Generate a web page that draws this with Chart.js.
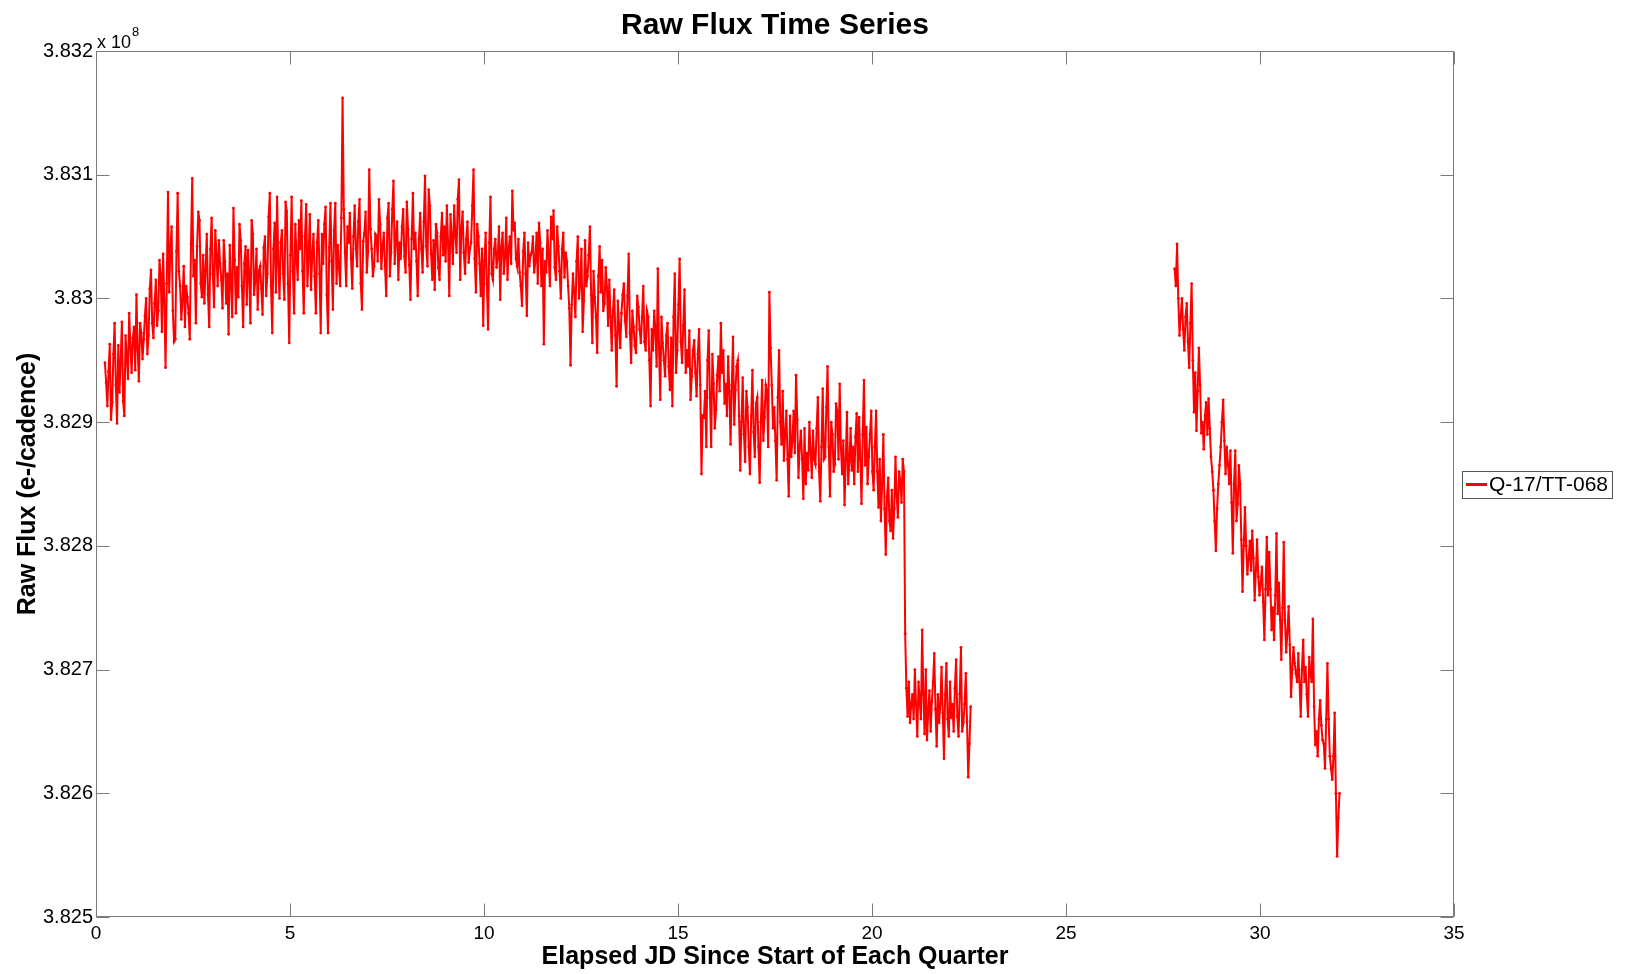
<!DOCTYPE html>
<html><head><meta charset="utf-8">
<script src="https://cdn.jsdelivr.net/npm/chart.js@4.4.1/dist/chart.umd.min.js"></script>
<style>html,body{margin:0;padding:0;background:#fff;}canvas{display:block;}</style>
</head><body>
<canvas id="c" width="1625" height="974"></canvas>
<script>
const chartTitle = 'Raw Flux Time Series';
const xTitle = 'Elapsed JD Since Start of Each Quarter';
const yTitle = 'Raw Flux (e-/cadence)';
const seriesLabel = 'Q-17/TT-068';
const yExponentBase = 'x 10';
const yExponent = '8';
const xTicks = [0, 5, 10, 15, 20, 25, 30, 35];
const yTicks = [3.825, 3.826, 3.827, 3.828, 3.829, 3.830, 3.831, 3.832];
const cadenceDays = 0.03125;
const q1Start = 0.23;
const q2Start = 27.80;
// flux values in units of 1e8 e-/cadence (even cadences)
const q1Flux = [
3.82948,3.82913,3.82963,3.82916,3.82980,3.82899,3.82924,3.82981,3.82905,3.82953,3.82988,3.82940,3.82977,3.83003,3.82933,3.82972,
3.82967,3.83000,3.82970,3.83023,3.82968,3.83015,3.82990,3.83020,3.83036,3.82944,3.83086,3.83040,3.82990,3.82967,3.83085,3.83010,
3.82999,3.82977,3.83001,3.82967,3.83097,3.83031,3.83042,3.83063,3.83001,3.82996,3.83052,3.82977,3.83065,3.82993,3.83036,3.83047,
3.83015,3.83047,3.82996,3.82971,3.83012,3.83073,3.82988,3.83001,3.83047,3.82977,3.83042,3.83039,3.82980,3.83052,3.83015,3.82991,
3.83026,3.82987,3.83050,3.83020,3.83085,3.82972,3.83061,3.83082,3.83000,3.83055,3.82999,3.83070,3.82964,3.83082,3.82988,3.83034,
3.83063,3.83079,3.82988,3.83076,3.83034,3.83007,3.83052,3.82988,3.83063,3.82972,3.83028,3.83074,3.82972,3.83077,3.82991,3.83077,
3.83043,3.83010,3.83162,3.83037,3.83058,3.83069,3.83008,3.83075,3.83026,3.83080,3.82991,3.83053,3.83021,3.83104,3.83040,3.83026,
3.83050,3.83080,3.83024,3.83053,3.83002,3.83077,3.83037,3.83095,3.83050,3.83015,3.83032,3.83072,3.83021,3.83056,3.82999,3.83085,
3.83053,3.83002,3.83069,3.83021,3.83099,3.83026,3.83075,3.83015,3.83007,3.83053,3.83015,3.83069,3.83058,3.83075,3.83002,3.83050,
3.83075,3.83037,3.83096,3.83056,3.83037,3.83048,3.83029,3.83045,3.83104,3.83005,3.83050,3.83002,3.82978,3.83053,3.82975,3.83082,
3.83015,3.83048,3.83034,3.82999,3.83053,3.83034,3.83015,3.83050,3.83087,3.83061,3.83026,3.83021,3.82994,3.83053,3.82986,3.83026,
3.83037,3.83021,3.83053,3.83061,3.83010,3.82963,3.83021,3.83034,3.83066,3.83071,3.83015,3.83042,3.83000,3.83053,3.83037,3.83010,
3.82946,3.83020,3.82985,3.83050,3.83012,3.82973,3.83047,3.83018,3.83058,3.82964,3.83001,3.82956,3.83042,3.83031,3.82996,3.83009,
3.83015,3.82958,3.83007,3.82929,3.82979,3.82988,3.83012,3.82969,3.83036,3.82948,3.82977,3.82956,3.82993,3.82964,3.83010,3.82958,
3.82985,3.82913,3.82958,3.82974,3.83024,3.82918,3.82964,3.82937,3.82980,3.82926,3.82913,3.83020,3.82958,3.83032,3.82948,3.83007,
3.82958,3.82974,3.82937,3.82966,3.82921,3.82975,3.82858,3.82904,3.82880,3.82974,3.82880,3.82931,3.82910,3.82953,3.82980,3.82958,
3.82931,3.82953,3.82882,3.82969,3.82926,3.82950,3.82861,3.82936,3.82868,3.82912,3.82858,3.82942,3.82872,3.82920,3.82851,3.82934,
3.82904,3.82925,3.83005,3.82930,3.82912,3.82853,3.82958,3.82882,3.82869,3.82909,3.82840,3.82872,3.82909,3.82938,3.82855,3.82893,
3.82838,3.82850,3.82861,3.82877,3.82893,3.82866,3.82920,3.82836,3.82927,3.82872,3.82945,3.82840,3.82890,3.82866,3.82909,3.82931,
3.82858,3.82833,3.82908,3.82868,3.82861,3.82850,3.82907,3.82904,3.82834,3.82934,3.82896,3.82872,3.82909,3.82845,3.82909,3.82831,
3.82820,3.82890,3.82793,3.82855,3.82812,3.82806,3.82872,3.82823,3.82853,3.82870,
3.82729,3.82662,3.82657,3.82680,3.82700,3.82646,3.82675,3.82732,3.82648,3.82643,3.82683,3.82674,3.82713,3.82638,
3.82657,3.82702,3.82628,3.82705,3.82646,3.82661,3.82650,3.82708,3.82646,3.82718,3.82657,3.82697,3.82613,3.82670
];
// odd cadences, between consecutive entries of q1Flux
const q1FluxOdd = [
3.82932,3.82941,3.82902,3.82955,3.82930,3.82962,3.82950,3.82917,3.82970,3.82935,3.82962,3.82968,3.82942,3.82959,3.82980,3.82951,
3.82986,3.82955,3.83008,3.82980,3.82996,3.82978,3.83031,3.82973,3.82998,3.83012,3.83005,3.83058,3.82965,3.83038,3.83022,3.82983,
3.83026,3.83010,3.82988,3.83044,3.83018,3.82980,3.83070,3.83012,3.83035,3.83023,3.83003,3.83040,3.83020,3.83055,3.83010,3.83028,
3.82992,3.83030,3.83020,3.83043,3.82985,3.83031,3.83025,3.83060,3.83010,3.83028,3.82995,3.83018,3.83063,3.83003,3.83040,3.83022,
3.83008,3.83041,3.83002,3.83066,3.83010,3.83040,3.83005,3.83028,3.83045,3.83020,3.83078,3.83012,3.83035,3.83022,3.83060,3.83015,
3.83040,3.83022,3.83050,3.83010,3.83068,3.83036,3.83018,3.83045,3.83020,3.83052,3.83060,3.83003,3.83041,3.83030,3.83055,3.83012,
3.83025,3.83065,3.83072,3.83010,3.83045,3.83032,3.83050,3.83040,3.83062,3.83012,3.83046,3.83070,3.83038,3.83056,3.83018,3.83052,
3.83030,3.83060,3.83042,3.83026,3.83065,3.83018,3.83072,3.83028,3.83062,3.83045,3.83058,3.83034,3.83078,3.83027,3.83048,3.83040,
3.83030,3.83048,3.83040,3.83062,3.83042,3.83088,3.83036,3.83047,3.83060,3.83025,3.83050,3.83035,3.83030,3.83045,3.83068,3.83028,
3.83052,3.83080,3.83015,3.83070,3.83020,3.83062,3.83040,3.83075,3.83032,3.83060,3.83028,3.83040,3.83030,3.83012,3.83045,3.83020,
3.83040,3.83025,3.83058,3.83042,3.83020,3.83065,3.83040,3.83028,3.83055,3.83032,3.83048,3.83010,3.83038,3.83020,3.83045,3.83035,
3.83050,3.83030,3.83012,3.83045,3.83040,3.83030,3.83055,3.83010,3.83048,3.83025,3.83058,3.83022,3.83040,3.83017,3.83030,3.82992,
3.82995,3.83005,3.83030,3.83000,3.83040,3.82998,3.83010,3.83035,3.83003,3.83022,3.82985,3.83018,3.83005,3.82990,3.83025,3.82978,
3.82985,3.82990,3.82970,3.82998,3.82960,3.83003,3.82982,3.83002,3.82972,3.82990,3.82962,3.83002,3.82975,3.82985,3.82965,3.82990,
3.82950,3.82975,3.82990,3.82945,3.82960,3.82985,3.82950,3.82970,3.82945,3.82968,3.82985,3.82940,3.82995,3.82965,3.82978,3.82940,
3.82945,3.82918,3.82958,3.82940,3.82955,3.82930,3.82905,3.82925,3.82950,3.82920,3.82955,3.82895,3.82938,3.82925,3.82940,3.82915,
3.82905,3.82925,3.82930,3.82898,3.82945,3.82905,3.82900,3.82890,3.82925,3.82880,3.82905,3.82892,3.82915,3.82880,3.82900,3.82885,
3.82930,3.82880,3.82960,3.82895,3.82885,3.82920,3.82900,3.82925,3.82890,3.82870,3.82905,3.82885,3.82875,3.82902,3.82880,3.82870,
3.82895,3.82875,3.82900,3.82855,3.82870,3.82895,3.82860,3.82880,3.82870,3.82912,3.82880,3.82900,3.82860,3.82915,3.82870,3.82880,
3.82885,3.82870,3.82850,3.82895,3.82880,3.82888,3.82860,3.82870,3.82890,3.82865,3.82850,3.82890,3.82860,3.82880,3.82860,3.82870,
3.82850,3.82830,3.82840,3.82820,3.82845,3.82830,3.82840,3.82860,3.82835,3.82860,
3.82685,3.82690,3.82672,3.82660,3.82672,3.82690,3.82660,3.82680,3.82700,3.82665,3.82650,3.82690,3.82668,3.82680,
3.82672,3.82665,3.82680,3.82660,3.82690,3.82672,3.82685,3.82662,3.82680,3.82650,3.82672,3.82658,3.82640
];
const q2Flux = [
3.83024,3.83044,3.82970,3.83000,3.82958,3.82996,3.82944,3.83012,3.82908,3.82893,
3.82960,3.82891,3.82878,3.82916,3.82919,3.82872,3.82845,3.82796,3.82850,3.82880,
3.82918,3.82858,3.82866,3.82877,3.82794,3.82877,3.82834,3.82850,3.82763,3.82831,
3.82777,3.82804,3.82812,3.82756,3.82805,3.82760,3.82783,3.82724,3.82807,3.82795,
3.82732,3.82724,3.82810,3.82770,3.82708,3.82803,3.82714,3.82751,3.82678,3.82718,
3.82697,3.82713,3.82662,3.82724,3.82702,3.82662,3.82697,3.82741,3.82639,3.82630,
3.82675,3.82643,3.82620,3.82705,3.82630,3.82611,3.82665,3.82549,3.82600
];
const q2FluxOdd = [
3.83010,3.83000,3.82985,3.82975,3.82985,3.82965,3.82980,3.82950,3.82940,3.82925,
3.82930,3.82900,3.82905,3.82890,3.82895,3.82860,3.82820,3.82830,3.82865,3.82900,
3.82885,3.82880,3.82850,3.82835,3.82850,3.82820,3.82865,3.82805,3.82800,3.82800,
3.82790,3.82780,3.82790,3.82780,3.82775,3.82770,3.82755,3.82765,3.82760,3.82765,
3.82750,3.82760,3.82745,3.82740,3.82750,3.82740,3.82730,3.82720,3.82700,3.82705,
3.82690,3.82690,3.82700,3.82690,3.82680,3.82710,3.82690,3.82670,3.82650,3.82660,
3.82655,3.82640,3.82660,3.82660,3.82620,3.82630,3.82600,3.82580
];

const FONT = '"Liberation Sans", Arial, Helvetica, sans-serif';
function quarterPoints(start, even, odd) {
  const pts = [];
  even.forEach((v, i) => {
    pts.push({x: start + 2 * i * cadenceDays, y: v});
    if (i < odd.length) pts.push({x: start + (2 * i + 1) * cadenceDays, y: odd[i]});
  });
  return pts;
}
const q1Points = quarterPoints(q1Start, q1Flux, q1FluxOdd);
const q2Points = quarterPoints(q2Start, q2Flux, q2FluxOdd);
const points = q1Points.concat([{x: (q1Points[q1Points.length - 1].x + q2Start) / 2, y: null}], q2Points);

const fmtY = v => String(parseFloat(Number(v).toFixed(3)));

const boxPlugin = {
  id: 'matlabBox',
  afterDraw(chart) {
    const {ctx, chartArea: {left, right, top, bottom}, scales: {x, y}} = chart;
    ctx.save();
    ctx.strokeStyle = '#7a7a7a';
    ctx.lineWidth = 1;
    const L = Math.round(left) + 0.5, R = Math.round(right) - 0.5;
    const T = Math.round(top) + 0.5, B = Math.round(bottom) - 0.5;
    ctx.strokeRect(L, T, R - L, B - T);
    const tl = 13;
    ctx.beginPath();
    xTicks.forEach(v => {
      const px = Math.round(x.getPixelForValue(v)) + 0.5;
      ctx.moveTo(px, B); ctx.lineTo(px, B - tl);
      ctx.moveTo(px, T); ctx.lineTo(px, T + tl);
    });
    yTicks.forEach(v => {
      const py = Math.round(y.getPixelForValue(v)) + 0.5;
      ctx.moveTo(L, py); ctx.lineTo(L + tl, py);
      ctx.moveTo(R, py); ctx.lineTo(R - tl, py);
    });
    ctx.stroke();
    // exponent label
    ctx.fillStyle = '#000';
    ctx.textBaseline = 'alphabetic';
    ctx.textAlign = 'left';
    ctx.font = '18px ' + FONT;
    ctx.fillText(yExponentBase, left + 1, top - 3);
    const w = ctx.measureText(yExponentBase).width;
    ctx.font = '13px ' + FONT;
    ctx.fillText(yExponent, left + 1 + w + 1, top - 15);
    // legend
    const lx = right + 8, ly = (top + bottom) / 2 - 13, lh = 27;
    ctx.font = '21px ' + FONT;
    const tw = ctx.measureText(seriesLabel).width;
    const lw = 27 + tw + 4;
    ctx.fillStyle = '#fff';
    ctx.fillRect(lx, ly, lw, lh);
    ctx.strokeStyle = '#555';
    ctx.strokeRect(Math.round(lx) + 0.5, Math.round(ly) + 0.5, Math.round(lw), lh);
    ctx.strokeStyle = '#ff0000';
    ctx.lineWidth = 3;
    ctx.beginPath();
    ctx.moveTo(lx + 4, ly + lh / 2);
    ctx.lineTo(lx + 25, ly + lh / 2);
    ctx.stroke();
    ctx.fillStyle = '#000';
    ctx.textBaseline = 'middle';
    ctx.fillText(seriesLabel, lx + 27, ly + lh / 2 + 1);
    ctx.restore();
  }
};

new Chart(document.getElementById('c'), {
  type: 'line',
  data: {
    datasets: [{
      label: seriesLabel,
      data: points,
      borderColor: '#ff0000',
      backgroundColor: '#ff0000',
      borderWidth: 2,
      pointRadius: 1.4,
      pointBorderWidth: 0,
      pointBackgroundColor: '#ff0000',
      tension: 0,
      spanGaps: false,
      fill: false
    }]
  },
  options: {
    responsive: false,
    animation: false,
    devicePixelRatio: 1,
    layout: {padding: {left: 0, right: 171, top: 0, bottom: 0}},
    plugins: {
      legend: {display: false},
      tooltip: {enabled: false},
      title: {
        display: true, text: chartTitle, fullSize: false,
        color: '#000', font: {family: FONT, size: 30, weight: 'bold'},
        padding: {top: 8, bottom: 7}
      }
    },
    scales: {
      x: {
        type: 'linear', min: 0, max: 35,
        afterBuildTicks: s => { s.ticks = xTicks.map(v => ({value: v})); },
        afterFit: s => { s.height = 57; },
        grid: {display: false, drawTicks: false},
        border: {display: false},
        ticks: {color: '#000', font: {family: FONT, size: 19}, padding: 5, maxRotation: 0, autoSkip: false},
        title: {display: true, text: xTitle, color: '#000', font: {family: FONT, size: 25, weight: 'bold'}, padding: {top: 0, bottom: 2}}
      },
      y: {
        type: 'linear', min: 3.825, max: 3.832,
        afterBuildTicks: s => { s.ticks = yTicks.map(v => ({value: v})); },
        afterFit: s => { s.width = 96; },
        grid: {display: false, drawTicks: false},
        border: {display: false},
        ticks: {color: '#000', font: {family: FONT, size: 20}, padding: 3, callback: v => fmtY(v), autoSkip: false},
        title: {display: true, text: yTitle, color: '#000', font: {family: FONT, size: 25, weight: 'bold'}, padding: {top: 13, bottom: 0}}
      }
    }
  },
  plugins: [boxPlugin]
});
</script>
</body></html>
